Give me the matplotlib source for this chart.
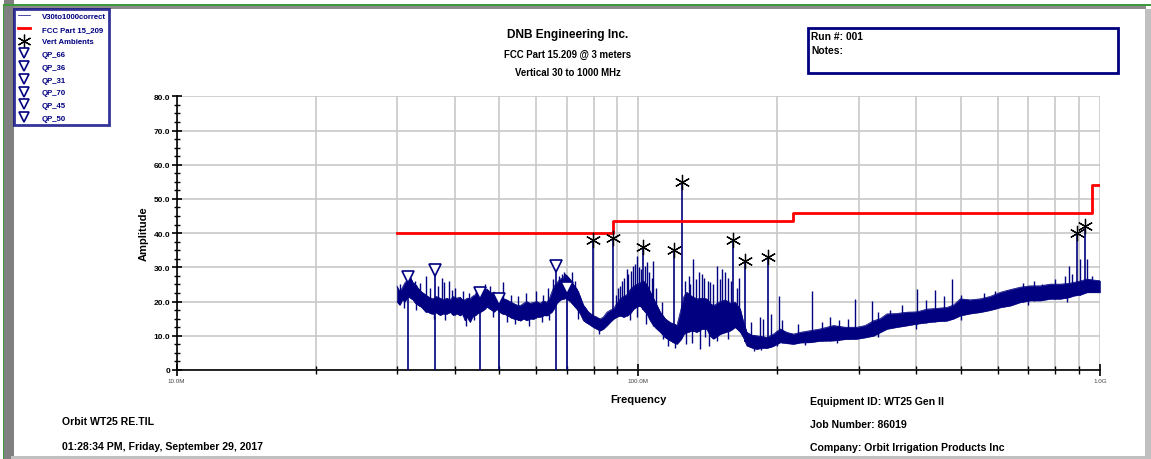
import numpy as np
import matplotlib
matplotlib.use("Agg")
import matplotlib.pyplot as plt
from matplotlib.patches import Rectangle
from matplotlib.ticker import FixedLocator, NullFormatter

plt.rcParams['font.family'] = ['Liberation Sans', 'DejaVu Sans']

NAVY = '#000080'

# ---------------- data ----------------
# measured trace: noise band (lower / upper envelope), MHz / dBuV
env_freq = [30.0, 30.4, 30.8, 31.2, 31.7, 32.1, 32.5, 32.9, 33.3, 33.8, 34.2, 34.6, 35.0, 35.5,
            35.9, 36.5, 37.2, 37.8, 38.5, 39.1, 39.7, 40.4, 41.1, 41.6, 42.1, 42.6, 43.2, 43.7,
            44.3, 44.8, 45.4, 46.2, 47.0, 47.5, 48.1, 48.7, 49.4, 50.0, 50.6, 51.2, 51.9, 52.7,
            53.6, 54.5, 55.5, 56.4, 57.3, 58.3, 59.3, 60.3, 61.3, 62.3, 63.4, 64.2, 64.9, 65.7,
            66.6, 67.7, 68.8, 69.4, 70.0, 71.2, 72.3, 73.6, 74.8, 76.0, 77.0, 77.9, 79.9, 81.2,
            82.6, 84.0, 85.5, 86.9, 88.3, 89.8, 91.3, 92.8, 94.4, 96.0, 97.6, 99.2, 100.9, 102.6,
            104.3, 106.0, 107.8, 109.6, 111.5, 114.3, 117.2, 119.2, 121.2, 123.8, 125.5, 127.4,
            130.6, 133.9, 137.3, 140.7, 143.0, 145.4, 150.4, 154.2, 158.1, 162.1, 166.2, 168.9,
            171.8, 176.2, 180.6, 185.2, 189.9, 196.2, 202.9, 209.8, 216.9, 224.2, 235.7, 247.7,
            264.7, 280.6, 297.4, 310.0, 323.2, 334.1, 345.5, 361.9, 381.8, 401.3, 421.8, 441.9,
            466.2, 481.8, 498.2, 523.6, 550.4, 578.5, 608.1, 639.2, 671.9, 706.3, 742.5, 780.3,
            820.4, 855.1, 876.7, 906.5, 937.3, 967.2, 1000.0]
env_low = [20.0, 19.0, 20.5, 20.0, 21.5, 21.0, 20.5, 19.5, 19.0, 18.5, 17.8, 17.0, 17.0, 16.5,
           16.4, 16.8, 16.0, 16.5, 16.4, 17.0, 16.0, 16.5, 15.9, 16.5, 14.5, 15.5, 14.0, 15.5,
           16.0, 16.5, 16.9, 17.5, 18.5, 18.0, 17.5, 17.0, 17.8, 17.0, 16.5, 16.4, 16.0, 15.5,
           15.0, 14.8, 14.4, 15.0, 14.5, 15.0, 14.9, 15.5, 15.5, 16.0, 15.9, 16.5, 16.9, 18.0,
           19.5, 20.5, 20.8, 21.0, 20.8, 20.0, 19.0, 17.8, 16.5, 14.5, 13.9, 13.5, 12.5, 12.0,
           11.5, 12.0, 13.0, 14.0, 14.9, 15.5, 15.9, 15.5, 15.9, 16.5, 17.8, 18.5, 18.8, 17.5,
           16.5, 14.5, 13.0, 12.0, 11.1, 9.5, 8.6, 8.0, 7.6, 9.0, 10.5, 11.0,
           11.5, 11.1, 12.0, 12.0, 10.0, 9.1, 10.5, 11.0, 11.5, 12.5, 11.1, 9.5,
           7.1, 6.5, 6.1, 6.5, 6.4, 7.0, 8.1, 7.8, 7.6, 8.0, 8.1, 8.5,
           8.6, 9.0, 9.1, 9.5, 10.0, 11.0, 12.0, 12.5, 13.0, 13.5, 13.9, 14.2,
           14.4, 15.0, 15.9, 16.5, 16.9, 17.5, 18.3, 18.8, 19.8, 20.3, 20.3, 20.8,
           20.8, 21.2, 21.7, 22.0, 22.7, 22.7, 22.7]
env_high = [24.5, 23.0, 24.0, 25.5, 26.5, 27.0, 25.5, 25.0, 24.0, 23.0, 22.5, 22.0, 21.5, 21.0,
            20.8, 21.5, 21.0, 20.5, 21.0, 20.5, 21.5, 21.0, 21.3, 20.5, 20.5, 21.0, 20.8, 21.5,
            22.0, 23.0, 23.2, 23.0, 23.7, 23.0, 22.5, 22.8, 22.2, 21.5, 21.0, 20.8, 20.5, 20.0,
            19.5, 19.0, 18.8, 19.5, 20.0, 19.5, 19.8, 20.0, 19.5, 20.2, 19.8, 21.0, 22.7, 24.5,
            25.5, 26.6, 27.0, 28.0, 27.6, 26.5, 25.0, 23.7, 21.5, 19.0, 18.0, 17.0, 15.9, 15.5,
            14.9, 15.5, 16.9, 17.5, 17.8, 19.5, 20.8, 21.5, 22.0, 23.5, 24.5, 25.0, 25.5, 26.0,
            25.0, 23.0, 21.0, 19.0, 17.0, 15.0, 13.9, 13.5, 13.0, 18.0, 21.5, 22.7,
            21.5, 20.8, 21.0, 20.8, 19.5, 18.8, 20.0, 20.5, 19.5, 19.8, 17.8, 14.0,
            11.0, 10.2, 10.0, 9.8, 9.5, 10.5, 12.0, 11.0, 10.5, 11.0, 11.5, 12.0,
            13.0, 12.5, 12.5, 13.0, 14.4, 15.0, 16.4, 16.5, 16.9, 17.0, 17.8, 18.0,
            18.3, 19.0, 20.8, 20.5, 20.8, 21.5, 22.7, 23.5, 24.2, 24.6, 24.6, 25.1,
            25.1, 25.3, 25.6, 26.0, 26.6, 26.3, 26.1]

# narrow upward spikes in the trace (frequency MHz, peak dBuV)
spike_freq = [30.5, 32.8, 33.6, 34.7, 35.3, 36.8, 37.5, 38.0, 38.8, 39.4, 40.0, 41.8, 43.0,
              44.5, 46.5, 47.8, 51.0, 53.0, 55.0, 57.0, 60.0, 62.0, 63.8, 65.3, 67.2, 68.3,
              69.0, 71.7, 72.8, 89.5, 90.5, 91.3, 92.0, 93.2, 94.4, 95.2, 96.5, 97.6, 98.4,
              99.4, 100.2, 101.5, 103.5, 104.3, 105.2, 106.8, 107.8, 109.0, 112.5, 126.5,
              128.5, 129.5, 131.6, 133.0, 135.0, 137.3, 139.0, 141.5, 143.0, 145.0, 147.9,
              150.0, 152.0, 154.2, 156.5, 158.8, 163.5, 165.0, 175.0, 183.3, 186.5, 193.5,
              201.2, 205.0, 222.0, 238.0, 250.0, 260.0, 272.0, 285.0, 295.0, 320.6, 330.0,
              350.0, 372.0, 401.3, 420.0, 439.7, 460.0, 477.9, 500.0, 560.0, 593.0, 630.0,
              680.0, 720.0, 748.7, 800.0, 840.0, 855.0, 870.0, 906.5, 937.3, 960.0]
spike_amp = [25.0, 26.0, 25.5, 27.6, 24.0, 24.5, 27.0, 25.7, 26.1, 23.5, 24.0, 23.0, 22.5,
             24.3, 25.0, 24.5, 25.6, 22.0, 21.5, 22.5, 23.0, 22.0, 24.0, 26.5, 27.5, 28.1,
             28.5, 28.6, 26.0, 22.0, 24.0, 24.6, 26.0, 27.0, 29.5, 28.0, 29.0, 30.5, 31.0,
             33.4, 30.0, 29.5, 30.5, 31.5, 28.5, 27.0, 32.0, 24.0, 20.0, 26.0,
             27.5, 25.0, 32.5, 26.5, 28.5, 28.0, 27.0, 26.0, 25.6, 25.0, 30.5,
             26.5, 29.5, 28.6, 27.0, 26.0, 24.0, 27.0, 14.0, 15.5, 15.0, 16.5,
             21.7, 14.5, 13.5, 23.2, 14.0, 15.5, 14.5, 15.0, 20.8, 20.3, 17.0,
             17.5, 19.0, 23.7, 20.5, 23.5, 21.5, 26.6, 22.0, 22.5, 23.2, 23.5,
             25.5, 26.0, 25.1, 26.5, 27.5, 30.5, 28.0, 32.5, 32.5, 27.5]

# narrow downward dips in the trace (frequency MHz, dip dBuV)
dip_freq = [31.0, 33.0, 36.0, 38.2, 42.3, 44.0, 48.5, 52.0, 54.0, 58.0, 61.8, 64.0, 74.0,
            82.0, 96.0, 99.5, 104.0, 113.0, 116.0, 120.0, 127.0, 131.0, 136.0, 139.5, 142.0,
            148.0, 156.0, 178.0, 184.0, 200.0, 230.0, 270.0, 330.0, 400.0, 500.0, 700.0, 850.0]
dip_amp = [18.0, 17.5, 15.0, 14.5, 13.0, 14.5, 15.5, 14.0, 13.5, 13.0, 14.0, 14.5, 15.0,
           10.5, 14.5, 15.5, 13.5, 9.0, 7.0, 6.5, 7.5, 8.0, 6.0, 9.5, 7.0,
           8.5, 9.0, 5.5, 5.8, 7.0, 7.2, 7.8, 9.5, 12.0, 14.5, 19.0, 20.0]

# FCC Part 15.209 limit @ 3 m
limit_freq = [30, 88, 88, 216, 216, 960, 960, 1000]
limit_amp = [40.0, 40.0, 43.5, 43.5, 46.0, 46.0, 54.0, 54.0]

# vertical ambients
amb_freq = [79.9, 88.1, 102.6, 119.6, 124.4, 160.2, 170.4, 190.5, 891.0, 926.0]
amb_amp = [38.0, 38.7, 36.0, 35.1, 54.9, 38.0, 32.0, 33.1, 40.1, 42.2]

# quasi-peak readings
qp_names = ['QP_66', 'QP_36', 'QP_31', 'QP_70', 'QP_45', 'QP_50']
qp_freq = [66.3, 36.2, 31.7, 70.0, 45.3, 49.9]
qp_amp = [30.3, 29.3, 27.2, 24.0, 22.5, 20.8]

y_ticks = [0, 10, 20, 30, 40, 50, 60, 70, 80]
y_ticklabels = ['0', '10.0', '20.0', '30.0', '40.0', '50.0', '60.0', '70.0', '80.0']
x_ticks = [10, 100, 1000]
x_ticklabels = ['10.0M', '100.0M', '1.0G']

# ---------------- figure ----------------
W, H = 1151, 460
fig = plt.figure(figsize=(W / 100, H / 100), dpi=100)


def fx(px):
    return px / W


def fy(py):
    return 1 - py / H


# frame decorations
fig.add_artist(Rectangle((fx(4), 0), fx(10), 1, transform=fig.transFigure,
                         facecolor='#808080', edgecolor='none'))
fig.add_artist(Rectangle((fx(2.5), 0), fx(1.5), fy(5), transform=fig.transFigure,
                         facecolor='#3c9a3c', edgecolor='none'))
fig.add_artist(Rectangle((fx(2.5), fy(6.5)), 1, fy(5) - fy(6.5), transform=fig.transFigure,
                         facecolor='#3c9a3c', edgecolor='none'))
fig.add_artist(Rectangle((fx(14), fy(10)), fx(1132), fy(6.5) - fy(10), transform=fig.transFigure,
                         facecolor='#8c8c8c', edgecolor='none'))
fig.add_artist(Rectangle((fx(1145), 0), fx(6), fy(10), transform=fig.transFigure,
                         facecolor='#c0c0c0', edgecolor='none'))
fig.add_artist(Rectangle((fx(11), 0), fx(1134), fy(457), transform=fig.transFigure,
                         facecolor='#c0c0c0', edgecolor='none'))

ax = fig.add_axes([fx(176.7), fy(371), fx(1100 - 176.7), fy(97.3) - fy(371)])
ax.set_xscale('log')
ax.set_xlim(10, 1000)
ax.set_ylim(0, 80)

# grid
ax.grid(True, which='both', axis='x', color='#c8c8c8', lw=1.2)
ax.grid(True, which='major', axis='y', color='#c8c8c8', lw=1.2)
ax.set_axisbelow(True)

for s in ['top', 'right']:
    ax.spines[s].set_visible(False)
for s in ['left', 'bottom']:
    ax.spines[s].set_linewidth(1.2)

ax.set_yticks(y_ticks)
ax.set_yticklabels(y_ticklabels, fontsize=6, fontweight='bold')
ax.yaxis.set_minor_locator(FixedLocator(np.arange(0, 80.1, 2.5)))
ax.tick_params(axis='y', which='major', direction='inout', length=7, width=1.2, pad=1)
ax.tick_params(axis='y', which='minor', direction='inout', length=5, width=1.0)

ax.set_xticks(x_ticks)
ax.set_xticklabels(x_ticklabels, fontsize=4.5, color='#444444')
ax.xaxis.set_minor_formatter(NullFormatter())
ax.tick_params(axis='x', which='major', direction='inout', length=8, width=1.2, pad=2)
ax.tick_params(axis='x', which='minor', direction='inout', length=6, width=1.0)

# trace
ax.fill_between(env_freq, env_low, env_high, color=NAVY, lw=0.4, zorder=3)
h_trace, = ax.plot(env_freq, env_high, color=NAVY, lw=0.5, zorder=3, label='V30to1000correct')
ax.plot(env_freq, env_low, color=NAVY, lw=0.5, zorder=3)
spike_base = np.interp(spike_freq, env_freq, env_low)
ax.vlines(spike_freq, spike_base, spike_amp, color=NAVY, lw=1.0, zorder=3)
dip_top = np.interp(dip_freq, env_freq, env_high)
ax.vlines(dip_freq, dip_amp, dip_top, color=NAVY, lw=1.0, zorder=3)

# limit
h_lim, = ax.plot(limit_freq, limit_amp, color='#ff0000', lw=2.0, zorder=4, label='FCC Part 15_209')

# ambients
amb_base = np.interp(amb_freq, env_freq, env_low)
ax.vlines(amb_freq, amb_base, amb_amp, color=NAVY, lw=1.2, zorder=3)
h_amb, = ax.plot(amb_freq, amb_amp, ls='none', marker=(6, 2, 0), ms=11, mew=0.9,
                 color='black', zorder=5, label='Vert Ambients')

# quasi-peaks
ax.vlines(qp_freq, 0, qp_amp, color=NAVY, lw=1.2, zorder=3)
qp_handles = []
for name, f, a in zip(qp_names, qp_freq, qp_amp):
    h, = ax.plot([f], [a], ls='none', marker='v', ms=8, mfc='white', mec=NAVY, mew=1.2,
                 zorder=5, label=name)
    qp_handles.append(h)

ax.set_xlabel('Frequency', fontsize=8, fontweight='bold', labelpad=8)
ax.set_ylabel('Amplitude', fontsize=8, fontweight='bold', labelpad=4)

# legend
leg = fig.legend(handles=[h_trace, h_lim, h_amb] + qp_handles, loc='upper left',
                 bbox_to_anchor=(fx(14), fy(10)), frameon=True,
                 fancybox=False, edgecolor=NAVY, labelspacing=0.68, handlelength=1.6,
                 handletextpad=1.5, borderpad=0.45, borderaxespad=0, markerscale=0.9,
                 prop={'weight': 'bold', 'size': 5.6})
leg.get_frame().set_linewidth(2.0)
for t in leg.get_texts():
    t.set_color(NAVY)

# titles
fig.text(fx(568), fy(35), 'DNB Engineering Inc.', ha='center', va='center', fontsize=8.6,
         fontweight='bold')
fig.text(fx(568), fy(55), 'FCC Part 15.209 @ 3 meters', ha='center', va='center',
         fontsize=6.9, fontweight='bold')
fig.text(fx(568), fy(73), 'Vertical 30 to 1000 MHz', ha='center', va='center',
         fontsize=6.9, fontweight='bold')

# notes box
fig.add_artist(Rectangle((fx(808), fy(74)), fx(310), fy(29) - fy(74), transform=fig.transFigure,
                         facecolor='none', edgecolor=NAVY, lw=2.0))
fig.text(fx(811), fy(37), 'Run #: 001', ha='left', va='center', fontsize=7.4, fontweight='bold')
fig.text(fx(811), fy(51), 'Notes:', ha='left', va='center', fontsize=7.4, fontweight='bold')

# footer
FS = 7.6
fig.text(fx(62), fy(422), 'Orbit WT25 RE.TIL', ha='left', va='center', fontsize=FS, fontweight='bold')
fig.text(fx(62), fy(447), '01:28:34 PM, Friday, September 29, 2017', ha='left', va='center',
         fontsize=FS, fontweight='bold')
fig.text(fx(810), fy(402), 'Equipment ID: WT25 Gen II', ha='left', va='center', fontsize=FS,
         fontweight='bold')
fig.text(fx(810), fy(425), 'Job Number: 86019', ha='left', va='center', fontsize=FS, fontweight='bold')
fig.text(fx(810), fy(448), 'Company: Orbit Irrigation Products Inc', ha='left', va='center',
         fontsize=FS, fontweight='bold')

fig.savefig('out.png', dpi=100)
